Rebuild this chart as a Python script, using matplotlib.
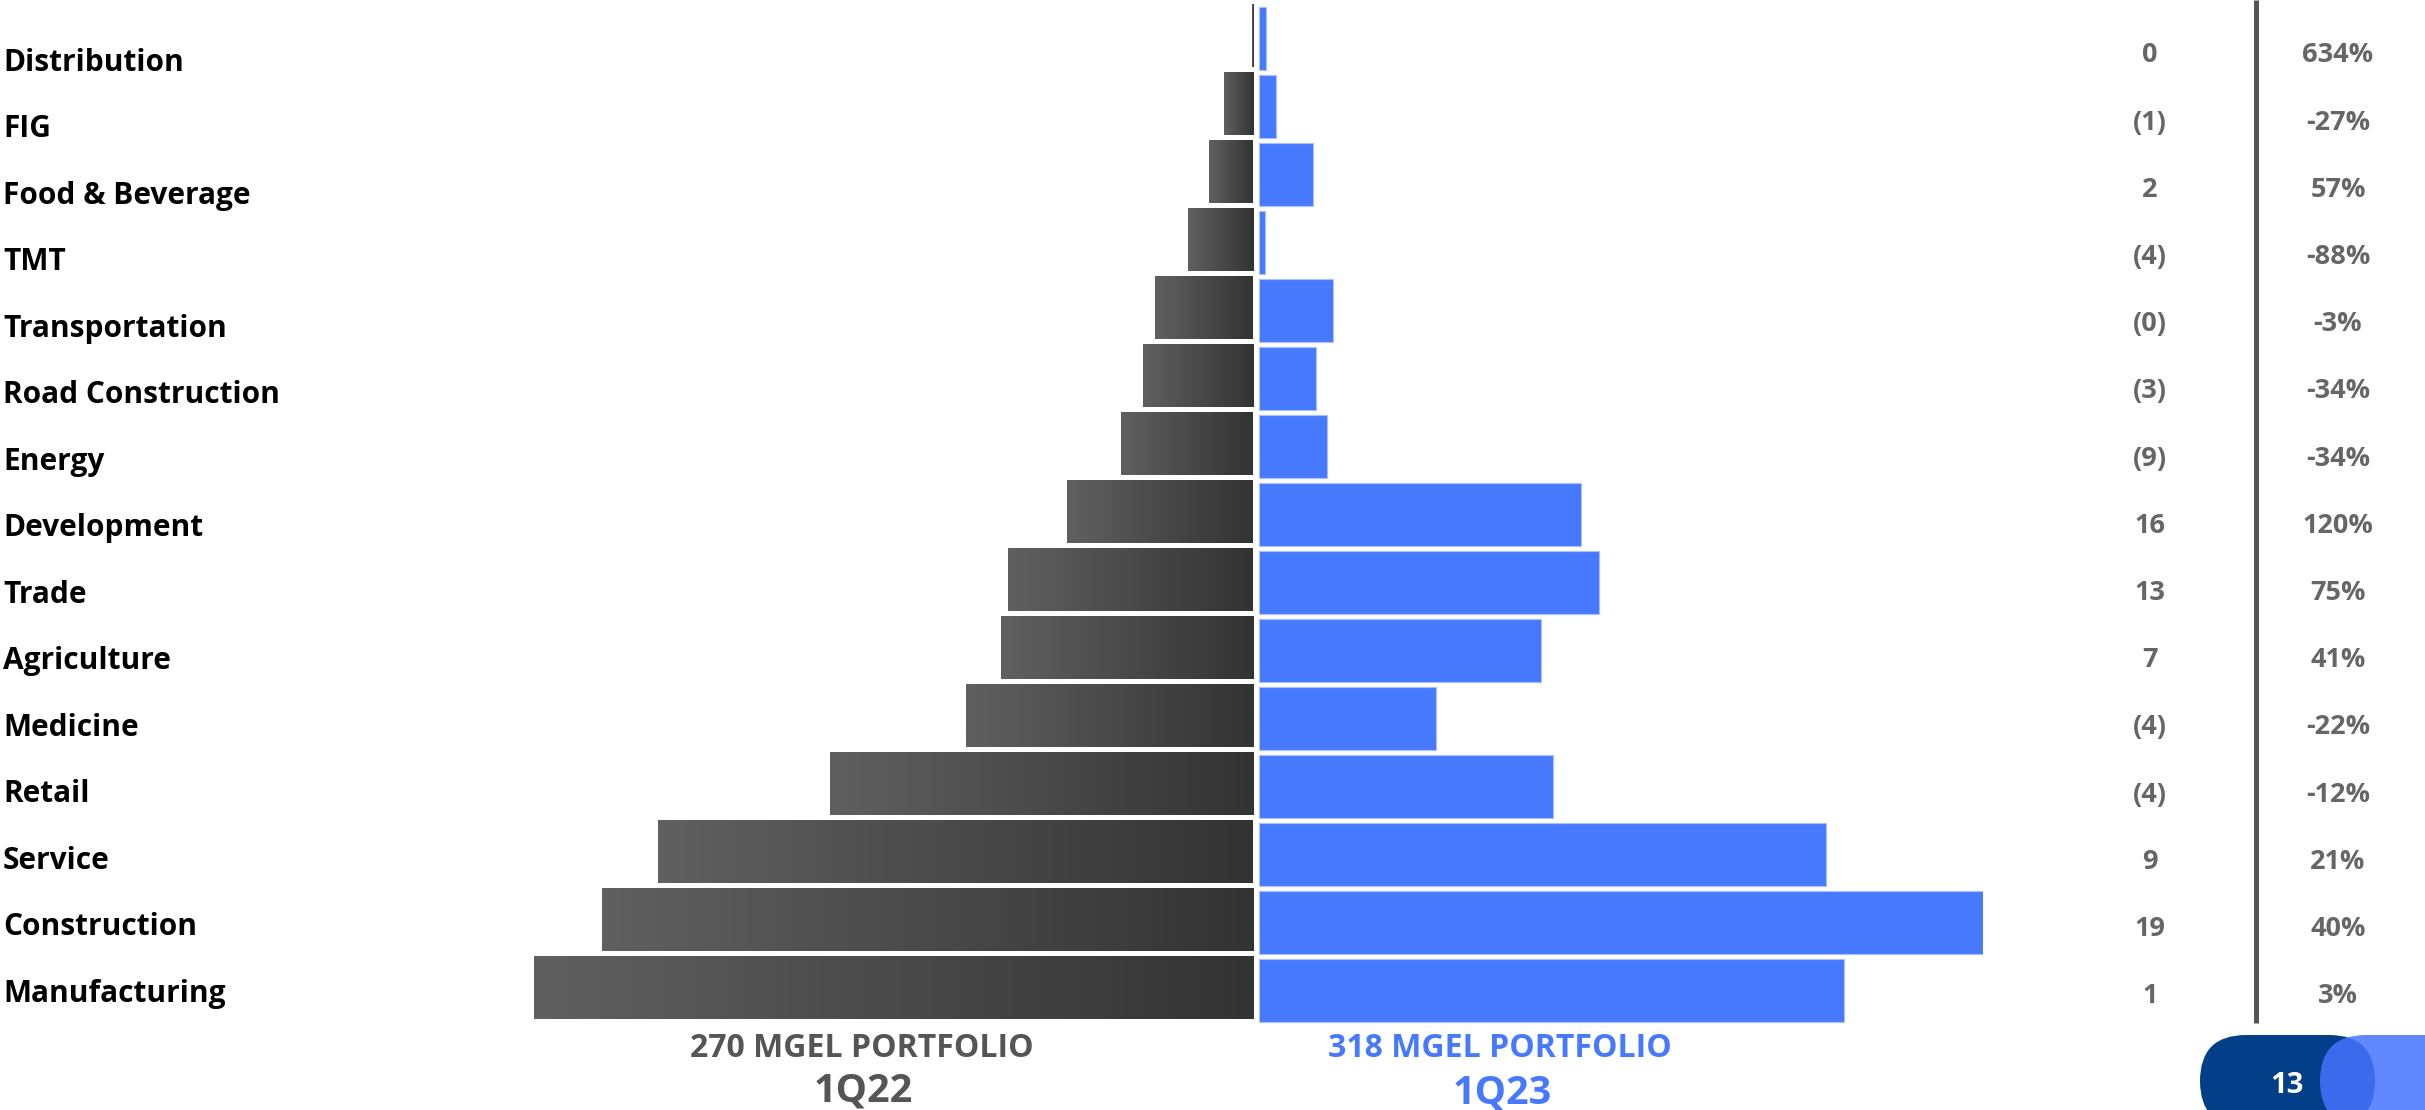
import numpy as np
import matplotlib
matplotlib.use("Agg")
import matplotlib.pyplot as plt
from matplotlib.colors import LinearSegmentedColormap
from matplotlib.patches import FancyBboxPatch

plt.rcParams['font.family'] = ['Open Sans', 'DejaVu Sans']

W, H = 2425, 1110

# sectores, de arriba hacia abajo
sectores = ["Distribution", "FIG", "Food & Beverage", "TMT", "Transportation",
            "Road Construction", "Energy", "Development", "Trade", "Agriculture",
            "Medicine", "Retail", "Service", "Construction", "Manufacturing"]

# cartera por sector, MGEL
q22 = [0.1, 2.05, 3.1, 4.6, 6.9, 7.8, 9.3, 13.1, 17.3, 17.8, 20.3, 29.9, 42.0, 46.0, 50.8]
q23 = [0.57, 1.46, 4.8, 0.55, 6.6, 5.1, 6.0, 28.7, 30.3, 25.1, 15.8, 26.2, 50.6, 64.6, 52.2]

cambio = ["0", "(1)", "2", "(4)", "(0)", "(3)", "(9)", "16", "13", "7", "(4)", "(4)", "9", "19", "1"]
cambio_pct = ["634%", "-27%", "57%", "-88%", "-3%", "-34%", "-34%", "120%", "75%", "41%",
              "-22%", "-12%", "21%", "40%", "3%"]

total_22 = "270 MGEL PORTFOLIO"
total_23 = "318 MGEL PORTFOLIO"
periodo_22 = "1Q22"
periodo_23 = "1Q23"
pagina = "13"

gris = "#555555"
azul = "#4779ff"

fig = plt.figure(figsize=(W / 100, H / 100), dpi=100)

n = len(sectores)
ypos = np.arange(n)[::-1]
alto = 0.92

# lado izquierdo: 1Q22 con degradado por barra
ax_l = fig.add_axes([533.6 / W, 0.0799, (1253 - 533.6) / W, 0.9188])
barras = ax_l.barh(ypos, q22, height=alto, color="#474747", zorder=2)
cmap = LinearSegmentedColormap.from_list("g", ["#333333", "#606060"])
grad = np.linspace(0, 1, 256).reshape(1, -1)
for b, v, y in zip(barras, q22, ypos):
    im = ax_l.imshow(grad, extent=[0, v, y - alto / 2, y + alto / 2], cmap=cmap,
                     aspect="auto", interpolation="bilinear", zorder=3)
    im.set_clip_path(b)
ax_l.set_xlim(max(q22), 0)
ax_l.set_ylim(-0.5, n - 0.5)
ax_l.axis("off")

# lado derecho: 1Q23
ax_r = fig.add_axes([1259.3 / W, 0.0799 - 3 / H, 724 / W, 0.9188])
ax_r.barh(ypos, q23, height=alto, color=azul, edgecolor="#a9c0ff", linewidth=0.8)
ax_r.set_xlim(0, max(q23))
ax_r.set_ylim(-0.5, n - 0.5)
ax_r.axis("off")

# capa de textos en pixeles
ax = fig.add_axes([0, 0, 1, 1])
ax.set_xlim(0, W)
ax.set_ylim(H, 0)
ax.axis("off")

y_lab = np.linspace(71, 1001.7, n)
for s, y in zip(sectores, y_lab):
    ax.text(3, y, s, fontsize=21.5, fontweight="bold", color="black", va="baseline", ha="left")

y_num = np.linspace(62.3, 1003.3, n)
for c, p, y in zip(cambio, cambio_pct, y_num):
    ax.text(2150, y, c, fontsize=19.5, fontweight="bold", color="#666666", va="baseline", ha="center")
    ax.text(2338, y, p, fontsize=19.5, fontweight="bold", color="#666666", va="baseline", ha="center")

ax.plot([2256, 2256], [0, 1023], color=gris, lw=3.6, solid_capstyle="butt")

ax.text(862, 1057.3, total_22, fontsize=23, fontweight="bold", color=gris, va="baseline", ha="center")
ax.text(863, 1101.7, periodo_22, fontsize=28.5, fontweight="bold", color=gris, va="baseline", ha="center")
ax.text(1500, 1057.3, total_23, fontsize=23, fontweight="bold", color=azul, va="baseline", ha="center")
ax.text(1502, 1104, periodo_23, fontsize=28.5, fontweight="bold", color=azul, va="baseline", ha="center")

# numero de pagina
ax.add_patch(FancyBboxPatch((2200, 1035), 175, 92, boxstyle="round,pad=0,rounding_size=46",
                            facecolor="#023f88", edgecolor="none"))
ax.add_patch(FancyBboxPatch((2320, 1035), 200, 92, boxstyle="round,pad=0,rounding_size=46",
                            facecolor="#4673ff", edgecolor="none", alpha=0.85))
ax.text(2287, 1093, pagina, fontsize=21, fontweight="bold", color="white", va="baseline", ha="center")

fig.savefig("out.png", dpi=100)
